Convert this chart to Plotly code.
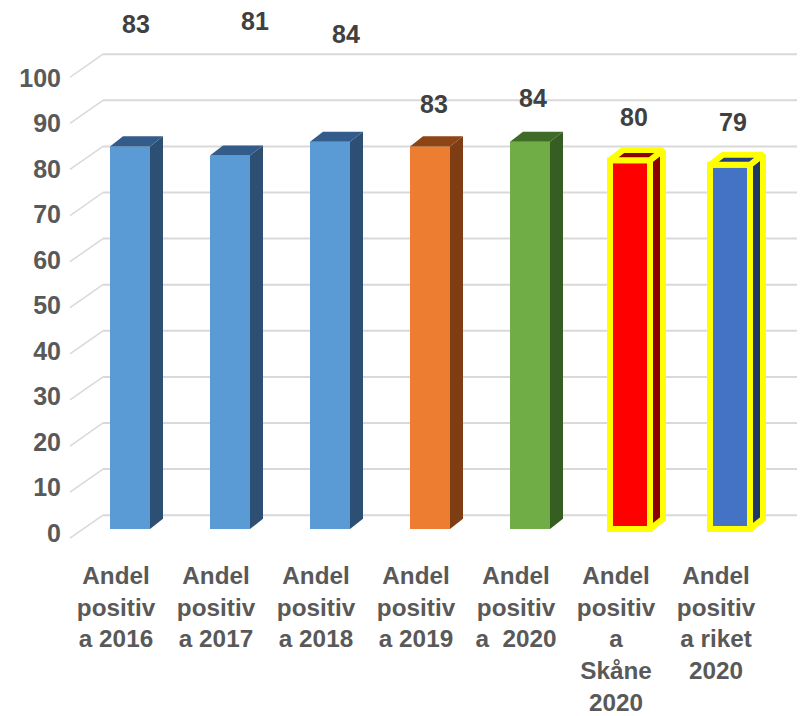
import plotly.graph_objects as go

categories = [
    "Andel<br>positiv<br>a 2016",
    "Andel<br>positiv<br>a 2017",
    "Andel<br>positiv<br>a 2018",
    "Andel<br>positiv<br>a 2019",
    "Andel<br>positiv<br>a\u00a0 2020",
    "Andel<br>positiv<br>a<br>Skåne<br>2020",
    "Andel<br>positiv<br>a riket<br>2020",
]
values = [83, 81, 84, 83, 84, 80, 79]
y_ticks = [0, 10, 20, 30, 40, 50, 60, 70, 80, 90, 100]

front_colors = ['#5B9BD5', '#5B9BD5', '#5B9BD5', '#ED7D31', '#70AD47', '#FF0000', '#4472C4']
side_colors = ['#2C4F73', '#2C4F73', '#2C4F73', '#7E3D12', '#375E22', '#8B0000', '#1F3864']
top_colors = ['#335C8A', '#335C8A', '#335C8A', '#8E4516', '#3F6B27', '#8B0000', '#203F82']
highlight = [False, False, False, False, False, True, True]

FONT = 'Liberation Sans, Arial, sans-serif'
TEXT_GREY = '#595959'
GRID = '#D9D9D9'

# perspective of the fake 3D bars (in axis units)
HALF_W = 0.2
DEPTH_X = 0.13
DEPTH_Y = 2.2
WALL_X = -0.27      # where the back wall starts
FRONT_X = -0.6      # front end of the little diagonals
WALL_DY = 3.0
FRONT_DY = -2.0

# label placement relative to bar top (pixels)
label_dx = [6, 25, 16, 4, 3, 4, 3]
label_dy = [122, 135, 108, 42, 44, 43, 43]

fig = go.Figure()

x_idx = list(range(len(values)))

fig.add_trace(go.Bar(
    x=x_idx, y=values, width=2 * HALF_W,
    marker=dict(color=front_colors,
                line=dict(color=['#FFFF00' if h else 'rgba(0,0,0,0)' for h in highlight],
                          width=[6 if h else 0 for h in highlight])),
    hoverinfo='skip', showlegend=False,
))

# side and top faces
for i, v in enumerate(values):
    lw = 6 if highlight[i] else 0
    lc = '#FFFF00' if highlight[i] else 'rgba(0,0,0,0)'
    fig.add_trace(go.Scatter(
        x=[i + HALF_W, i + HALF_W + DEPTH_X, i + HALF_W + DEPTH_X, i + HALF_W, i + HALF_W],
        y=[0, DEPTH_Y, v + DEPTH_Y, v, 0],
        fill='toself', fillcolor=side_colors[i], mode='lines',
        line=dict(color=lc, width=lw), hoverinfo='skip', showlegend=False,
    ))
    fig.add_trace(go.Scatter(
        x=[i - HALF_W, i + HALF_W, i + HALF_W + DEPTH_X, i - HALF_W + DEPTH_X, i - HALF_W],
        y=[v, v, v + DEPTH_Y, v + DEPTH_Y, v],
        fill='toself', fillcolor=top_colors[i], mode='lines',
        line=dict(color=lc, width=lw), hoverinfo='skip', showlegend=False,
    ))

# invisible trace so the tick-label axis is drawn
fig.add_trace(go.Scatter(x=[0], y=[0], yaxis='y2', mode='markers',
                         marker=dict(opacity=0), hoverinfo='skip', showlegend=False))

# back wall gridlines + diagonals to the front
for t in y_ticks:
    fig.add_shape(type='line', xref='x', yref='y', x0=WALL_X, x1=6.75,
                  y0=t + WALL_DY, y1=t + WALL_DY, line=dict(color=GRID, width=2), layer='below')
    fig.add_shape(type='line', xref='x', yref='y', x0=FRONT_X, x1=WALL_X,
                  y0=t + FRONT_DY, y1=t + WALL_DY, line=dict(color=GRID, width=1.5), layer='below')

for i, v in enumerate(values):
    fig.add_annotation(x=i, y=v, text=f"<b>{v}</b>", showarrow=False,
                       xshift=label_dx[i], yshift=label_dy[i], yanchor='middle',
                       font=dict(size=25, color='#404040', family=FONT))

# the page body adds an 8px offset, so margins are trimmed by 8px
fig.update_layout(
    width=805, height=716,
    margin=dict(l=57, r=8, t=0, b=179, autoexpand=False),
    plot_bgcolor='white', paper_bgcolor='white',
    showlegend=False,
    font=dict(family=FONT, size=25, color=TEXT_GREY),
    xaxis=dict(range=[-0.65, 6.75], tickvals=x_idx, automargin=False,
               ticktext=[f"<b>{c}</b>".replace('<br>', '</b><br><b>') for c in categories],
               showgrid=False, zeroline=False, showline=False, ticks='',
               ticklabelshift=-14, ticklabelstandoff=14,
               tickfont=dict(size=24.3, color=TEXT_GREY, family=FONT)),
    yaxis=dict(range=[-3.47, 113.02], showgrid=False, zeroline=False, automargin=False,
               showticklabels=False, ticks=''),
    yaxis2=dict(range=[-2.64, 115.38], overlaying='y', side='left', automargin=False,
                tickvals=y_ticks, ticktext=[f"<b>{t}</b>" for t in y_ticks],
                showgrid=False, zeroline=False, showline=False, ticks='',
                ticklabelstandoff=3,
                tickfont=dict(size=25, color=TEXT_GREY, family=FONT)),
)

fig.write_html("out.html")
